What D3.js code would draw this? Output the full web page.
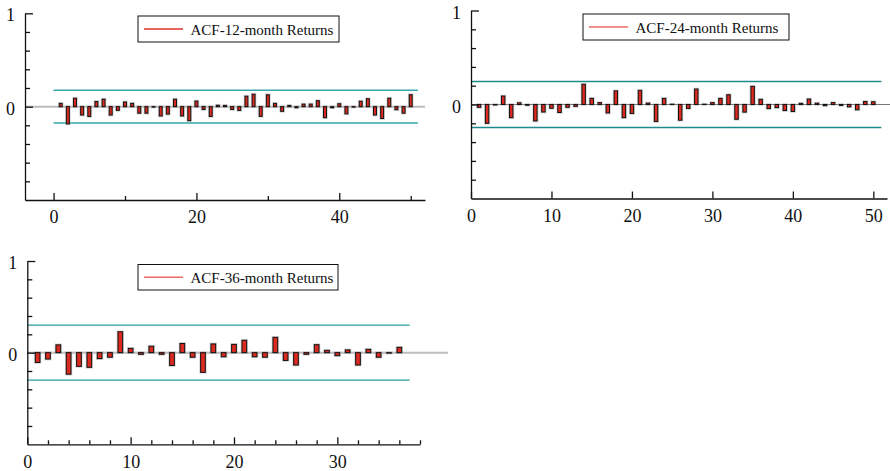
<!DOCTYPE html>
<html>
<head>
<meta charset="utf-8">
<script src="https://cdn.jsdelivr.net/npm/d3@7/dist/d3.min.js"></script>
<style>
  body { margin: 0; background: #fff; }
  svg { display: block; }
  text { font-family: "Liberation Serif", "Times New Roman", serif; fill: #111; }
</style>
</head>
<body>
<svg id="chart" width="890" height="471"></svg>
<script>
// ACF values, one per lag
const lags12 = d3.range(1, 51);
const acf12 = [0.035, -0.185, 0.09, -0.09, -0.105, 0.055, 0.08, -0.09, -0.04, 0.05,
  0.035, -0.07, -0.07, -0.005, -0.10, -0.08, 0.08, -0.10, -0.15, 0.06,
  -0.03, -0.105, 0.015, 0.013, -0.03, -0.04, 0.112, 0.133, -0.104, 0.127,
  0.035, -0.05, 0.013, -0.012, 0.027, 0.027, 0.064, -0.118, -0.012, 0.031,
  -0.077, -0.005, 0.058, 0.085, -0.09, -0.127, 0.09, -0.033, -0.07, 0.128];

const lags24 = d3.range(1, 51);
const acf24 = [-0.03, -0.20, -0.005, 0.09, -0.14, 0.018, -0.008, -0.175, -0.08, -0.04,
  -0.085, -0.03, -0.02, 0.215, 0.065, 0.02, -0.09, 0.145, -0.14, -0.095,
  0.15, 0.015, -0.18, 0.065, 0.003, -0.167, -0.042, 0.165, 0.003, 0.02,
  0.065, 0.104, -0.157, -0.081, 0.193, 0.055, -0.043, -0.033, -0.064, -0.074,
  0.012, 0.058, 0.014, -0.012, 0.02, -0.01, -0.025, -0.056, 0.032, 0.029];

const lags36 = d3.range(1, 37);
const acf36 = [-0.107, -0.07, 0.085, -0.235, -0.15, -0.16, -0.065, -0.05, 0.228, 0.047,
  -0.018, 0.07, -0.018, -0.14, 0.10, -0.05, -0.215, 0.095, -0.045, 0.09,
  0.135, -0.045, -0.05, 0.167, -0.085, -0.135, -0.018, 0.087, 0.025, -0.033,
  0.03, -0.135, 0.036, -0.05, -0.005, 0.058];

const bands = [0.175, 0.245, 0.3];
const legendLabels = ["ACF-12-month Returns", "ACF-24-month Returns", "ACF-36-month Returns"];
const yLabels = [0, 1];

const svg = d3.select("#chart");

const panels = [
  { lags: lags12, acf: acf12, band: bands[0], label: legendLabels[0],
    left: 25, right: 425, top: 13.3, bottom: 200, xDomain: [-4, 52],
    major: [0, 20, 40], minor: [10, 30, 50], confEnd: 51, zeroEnd: 425,
    legend: { x: 138, y: 16, w: 201, h: 26 }, legendLine: "#e0302a",
    zeroColor: "#bdbdbd", zeroWidth: 2, bandColor: "#35a9a9" },
  { lags: lags24, acf: acf24, band: bands[1], label: legendLabels[1],
    left: 471, right: 887, top: 10.5, bottom: 198.5, xDomain: [0, 51.7],
    major: [0, 10, 20, 30, 40, 50], minor: [], confEnd: 51, zeroEnd: 890,
    legend: { x: 583, y: 14, w: 206, h: 26 }, legendLine: "#ee6a62",
    zeroColor: "#777", zeroWidth: 1, bandColor: "#208a8a" },
  { lags: lags36, acf: acf36, band: bands[2], label: legendLabels[2],
    left: 27.3, right: 420, top: 261, bottom: 444.3, xDomain: [0, 38],
    major: [0, 10, 20, 30], minor: d3.range(2, 39, 2).filter(d => d % 10 !== 0),
    confEnd: 37, zeroEnd: 448,
    legend: { x: 138, y: 264.5, w: 200, h: 25.5 }, legendLine: "#ee6a62",
    zeroColor: "#bdbdbd", zeroWidth: 2, bandColor: "#2a9e9c" }
];

function drawPanel(p) {
  const x = d3.scaleLinear().domain(p.xDomain).range([p.left, p.right]);
  const y = d3.scaleLinear().domain([-1, 1]).range([p.bottom, p.top]);
  const g = svg.append("g");
  const unit = x(1) - x(0);

  // zero line
  g.append("line")
    .attr("x1", p.left).attr("x2", p.zeroEnd)
    .attr("y1", y(0)).attr("y2", y(0))
    .attr("stroke", p.zeroColor).attr("stroke-width", p.zeroWidth);

  // confidence bands
  [p.band, -p.band].forEach(b => {
    g.append("line")
      .attr("x1", x(0)).attr("x2", x(p.confEnd))
      .attr("y1", y(b)).attr("y2", y(b))
      .attr("stroke", p.bandColor).attr("stroke-width", 1.4);
  });

  // bars
  const bw = 0.55 * unit - 1;
  const bars = g.selectAll("g.bar").data(p.lags.map((l, i) => ({ lag: l, v: p.acf[i] })))
    .enter().append("g").attr("class", "bar");
  bars.append("rect")
    .attr("x", d => x(d.lag) - bw / 2)
    .attr("y", d => Math.min(y(d.v), y(0)))
    .attr("width", bw)
    .attr("height", d => Math.abs(y(d.v) - y(0)))
    .attr("fill", "none").attr("stroke", "#999").attr("stroke-opacity", 0.45)
    .attr("stroke-width", 2.6);
  bars.append("rect")
    .attr("x", d => x(d.lag) - bw / 2)
    .attr("y", d => Math.min(y(d.v), y(0)))
    .attr("width", bw)
    .attr("height", d => Math.abs(y(d.v) - y(0)))
    .attr("fill", "#dc2a20").attr("stroke", "#111").attr("stroke-width", 1);

  // x axis
  const xa = g.append("g").attr("transform", `translate(0,${p.bottom})`)
    .call(d3.axisBottom(x).tickValues(p.major).tickSizeInner(-7).tickSizeOuter(0)
      .tickPadding(10.7).tickFormat(d3.format("d")));
  if (p.minor.length) {
    g.append("g").attr("transform", `translate(0,${p.bottom})`)
      .call(d3.axisBottom(x).tickValues(p.minor).tickSizeInner(-4).tickSizeOuter(0)
        .tickFormat(""))
      .call(s => s.select(".domain").remove());
  }

  // y axis
  const ya = g.append("g").attr("transform", `translate(${p.left},0)`)
    .call(d3.axisLeft(y).tickValues(yLabels).tickSizeInner(-8).tickSizeOuter(0)
      .tickPadding(10).tickFormat(d3.format("d")));
  ya.selectAll("text").attr("dy", "0.42em");
  g.append("g").attr("transform", `translate(${p.left},0)`)
    .call(d3.axisLeft(y).tickValues(d3.range(-0.8, 1, 0.2).filter(v => Math.abs(v) > 0.01))
      .tickSizeInner(-5).tickSizeOuter(0).tickFormat(""))
    .call(s => s.select(".domain").remove());

  [xa, ya].forEach(a => {
    a.selectAll("text").attr("font-size", 18).attr("font-family", "Liberation Serif, serif").attr("fill", "#111");
  });
  g.selectAll(".domain, .tick line").attr("stroke", "#111").attr("stroke-width", 1.3);

  // legend
  const L = p.legend;
  g.append("rect").attr("x", L.x).attr("y", L.y).attr("width", L.w).attr("height", L.h)
    .attr("fill", "#fff").attr("stroke", "#111").attr("stroke-width", 1);
  g.append("line").attr("x1", L.x + 6).attr("x2", L.x + 45)
    .attr("y1", L.y + L.h / 2).attr("y2", L.y + L.h / 2)
    .attr("stroke", p.legendLine).attr("stroke-width", 1.3);
  g.append("text").attr("x", L.x + 52.5).attr("y", L.y + L.h / 2 + 5.5)
    .attr("font-size", 15).text(p.label);
}

panels.forEach(drawPanel);
</script>
</body>
</html>
